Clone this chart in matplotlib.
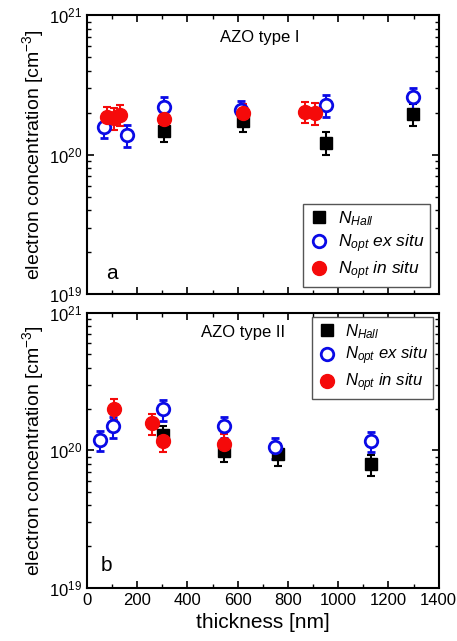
import numpy as np
import matplotlib.pyplot as plt
from matplotlib.lines import Line2D
from matplotlib.ticker import LogLocator, MultipleLocator, NullFormatter

plt.rcParams['font.family'] = ['Liberation Sans', 'DejaVu Sans']
plt.rcParams['mathtext.fontset'] = 'custom'
plt.rcParams['mathtext.rm'] = 'Liberation Sans'
plt.rcParams['mathtext.it'] = 'Liberation Sans:italic'
plt.rcParams['mathtext.bf'] = 'Liberation Sans:bold'

# panel a: AZO type I (concentration in 1e20 cm^-3)
a_hall_x = [307, 620, 953, 1297]
a_hall_y = [1.48, 1.76, 1.22, 1.96]
a_hall_e = [0.25, 0.30, 0.23, 0.35]
a_ex_x = [67, 160, 307, 613, 953, 1297]
a_ex_y = [1.59, 1.39, 2.19, 2.10, 2.28, 2.58]
a_ex_e = [0.28, 0.25, 0.40, 0.35, 0.40, 0.45]
a_in_x = [80, 107, 133, 307, 620, 867, 907]
a_in_y = [1.88, 1.83, 1.93, 1.80, 1.99, 2.04, 1.99]
a_in_e = [0.33, 0.33, 0.33, 0.30, 0.33, 0.35, 0.35]

# panel b: AZO type II
b_hall_x = [304, 544, 760, 1131]
b_hall_y = [1.29, 0.99, 0.94, 0.79]
b_hall_e = [0.22, 0.17, 0.17, 0.14]
b_ex_x = [53, 104, 304, 544, 747, 1131]
b_ex_y = [1.19, 1.49, 1.99, 1.49, 1.05, 1.17]
b_ex_e = [0.20, 0.26, 0.35, 0.26, 0.18, 0.20]
b_in_x = [107, 260, 304, 547]
b_in_y = [2.01, 1.57, 1.17, 1.11]
b_in_e = [0.35, 0.28, 0.20, 0.20]

BLUE = '#0a0ae6'
RED = '#f50a0a'

fig = plt.figure(figsize=(4.57, 6.41), dpi=100)
ax1 = fig.add_axes([0.19, 0.541, 0.77, 0.435])
ax2 = fig.add_axes([0.19, 0.083, 0.77, 0.429])


def draw(ax, hx, hy, he, ex, ey, ee, ix, iy, ie):
    s = 1e20
    ax.errorbar(hx, np.array(hy) * s, yerr=np.array(he) * s, fmt='s', color='black',
                ms=8, capsize=3, elinewidth=1.5, capthick=1.5)
    ax.errorbar(ex, np.array(ey) * s, yerr=np.array(ee) * s, fmt='o', color=BLUE,
                mfc='white', mec=BLUE, mew=2, ms=9, capsize=3, elinewidth=1.5,
                capthick=1.5)
    ax.errorbar(ix, np.array(iy) * s, yerr=np.array(ie) * s, fmt='o', color=RED,
                ms=10, capsize=3, elinewidth=1.5, capthick=1.5)
    ax.set_yscale('log')
    ax.set_ylim(1e19, 1e21)
    ax.set_xlim(0, 1400)
    ax.xaxis.set_major_locator(MultipleLocator(200))
    ax.xaxis.set_minor_locator(MultipleLocator(100))
    ax.yaxis.set_major_locator(LogLocator(base=10, numticks=5))
    ax.yaxis.set_minor_locator(LogLocator(base=10, subs=np.arange(2, 10), numticks=20))
    ax.yaxis.set_minor_formatter(NullFormatter())
    ax.tick_params(which='both', direction='in', top=True, right=True, labelsize=12)
    ax.tick_params(which='major', length=5, width=1.2)
    ax.tick_params(which='minor', length=3, width=1)
    for sp in ax.spines.values():
        sp.set_linewidth(1.5)
    ax.set_ylabel(r'electron concentration [cm$^{-3}$]', fontsize=14, labelpad=2)


draw(ax1, a_hall_x, a_hall_y, a_hall_e, a_ex_x, a_ex_y, a_ex_e, a_in_x, a_in_y, a_in_e)
draw(ax2, b_hall_x, b_hall_y, b_hall_e, b_ex_x, b_ex_y, b_ex_e, b_in_x, b_in_y, b_in_e)

ax1.tick_params(labelbottom=False)
ax1.text(0.49, 0.92, 'AZO type I', transform=ax1.transAxes, ha='center', va='center', fontsize=12)
ax1.text(0.07, 0.075, 'a', transform=ax1.transAxes, ha='center', va='center', fontsize=15)
ax2.text(0.445, 0.93, 'AZO type II', transform=ax2.transAxes, ha='center', va='center', fontsize=12)
ax2.text(0.055, 0.08, 'b', transform=ax2.transAxes, ha='center', va='center', fontsize=15)
ax2.set_xlabel('thickness [nm]', fontsize=15, labelpad=4)

handles = [
    Line2D([], [], ls='none', marker='s', color='black', ms=8),
    Line2D([], [], ls='none', marker='o', mfc='white', mec=BLUE, mew=2, ms=9),
    Line2D([], [], ls='none', marker='o', color=RED, ms=10),
]
labels = [r'$N_{Hall}$', r'$N_{opt}$ $\it{ex\ situ}$', r'$N_{opt}$ $\it{in\ situ}$']

for ax, loc, anchor, fs in [(ax1, 'lower right', (0.975, 0.025), 12.5),
                            (ax2, 'upper right', (0.985, 0.985), 12)]:
    leg = ax.legend(handles, labels, loc=loc, bbox_to_anchor=anchor, fontsize=fs,
                    fancybox=False, framealpha=1, edgecolor='#555555', handletextpad=0.5,
                    borderpad=0.3, labelspacing=0.25, handlelength=1.2, borderaxespad=0)
    leg.get_frame().set_linewidth(1)

fig.savefig('out.png', dpi=100)
